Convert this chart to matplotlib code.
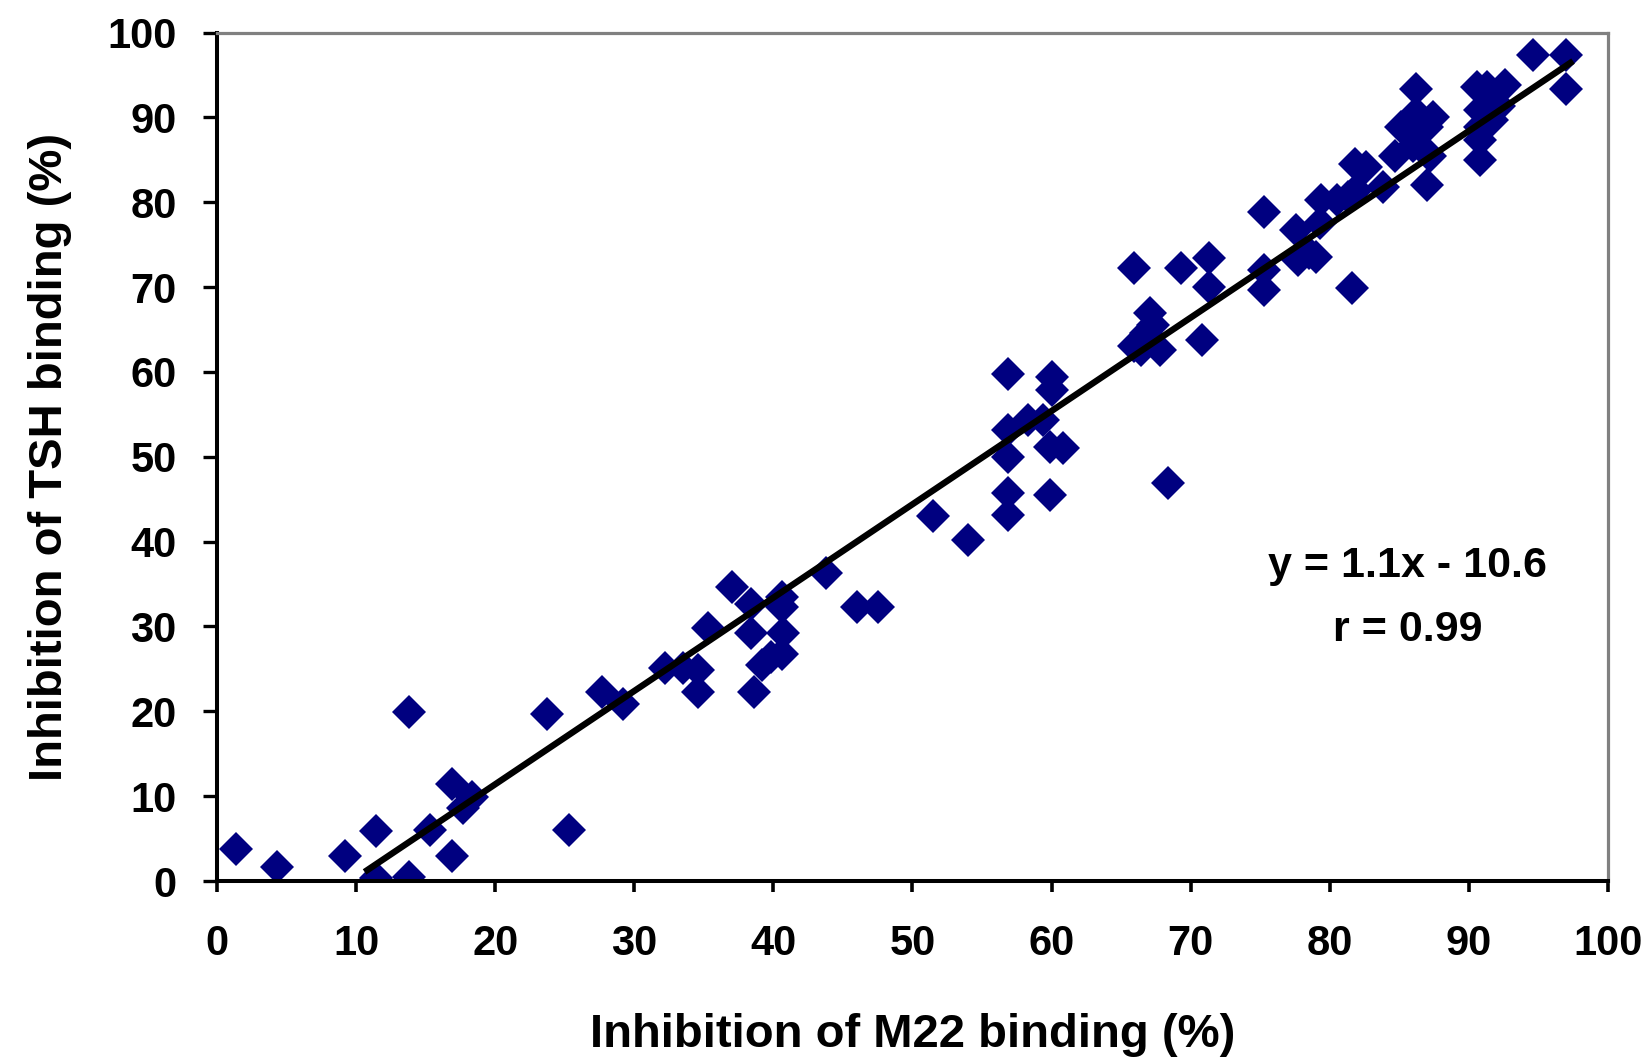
import numpy as np
import matplotlib
matplotlib.use("Agg")
import matplotlib.pyplot as plt

plt.rcParams['font.family'] = ['Liberation Sans', 'DejaVu Sans']
plt.rcParams['font.weight'] = 'bold'

# inhibition of M22 binding (%) vs inhibition of TSH binding (%)
m22 = [1.4, 4.3, 9.2, 11.4, 11.4, 13.8, 13.8, 15.3, 16.9, 16.9, 17.7, 18.3,
       23.7, 25.3, 27.7, 29.2, 32.2, 33.5, 34.6, 34.6, 35.3, 37.0, 38.4, 38.4,
       38.6, 39.2, 39.8, 40.6, 40.6, 40.7, 40.6, 43.8, 46.0, 47.5, 51.5, 54.0,
       56.9, 56.9, 56.9, 56.9, 56.9, 58.3, 59.4, 60.0, 60.0, 59.9, 60.8, 59.9,
       65.9, 65.9, 66.4, 66.8, 67.1, 67.3, 67.8, 68.4, 69.3, 70.8, 71.3, 71.3,
       75.3, 75.3, 75.3, 77.6, 77.7, 78.5, 79.0, 79.3, 79.4, 80.5, 81.3, 81.6,
       81.8, 82.6, 81.9, 83.8, 84.7, 85.1, 86.0, 86.2, 86.2, 87.0, 87.4, 87.0,
       87.2, 90.6, 91.3, 92.6, 92.2, 90.8, 91.7, 90.8, 90.8, 90.8, 94.6, 97.0,
       97.0]
tsh = [3.8, 1.6, 3.0, 5.9, 0.3, 19.9, 0.5, 6.0, 11.4, 3.0, 8.6, 9.9,
       19.7, 6.0, 22.3, 20.9, 25.1, 25.1, 24.9, 22.3, 29.8, 34.7, 32.7, 29.2,
       22.3, 25.5, 26.4, 33.5, 32.3, 29.2, 26.8, 36.3, 32.3, 32.3, 43.0, 40.2,
       59.8, 53.2, 50.0, 45.7, 43.1, 54.3, 54.3, 59.4, 57.9, 51.2, 51.0, 45.5,
       72.2, 63.0, 62.6, 64.6, 67.0, 65.5, 62.6, 46.9, 72.2, 63.8, 73.4, 70.0,
       78.8, 72.0, 69.7, 76.7, 73.2, 74.0, 73.6, 77.5, 80.3, 80.3, 80.6, 69.9,
       84.5, 84.2, 81.5, 81.8, 85.4, 88.9, 86.6, 93.4, 90.5, 88.9, 90.1, 82.0,
       85.4, 93.6, 93.6, 93.8, 91.3, 90.9, 89.7, 88.9, 87.3, 85.0, 97.4, 97.4,
       93.3]

# regression y = 1.1x - 10.6, r = 0.99
slope = 1.1
intercept = -10.6
r_value = 0.99
fit_range = [10.8, 97.3]

fig = plt.figure(figsize=(16.49, 10.57), dpi=100)
ax = fig.add_axes([0.1316, 0.1665, 0.9751 - 0.1316, 0.9692 - 0.1665])

ax.plot(m22, tsh, linestyle='none', marker='D', markersize=17,
        markeredgewidth=0, color='#000080', zorder=2)

fx = np.array(fit_range)
ax.plot(fx, slope * fx + intercept, color='black', linewidth=4.6, zorder=3)

ax.text(85.6, 37.1, f"y = {slope}x - {abs(intercept)}", ha='center', va='center',
        fontsize=31, fontweight='bold')
ax.text(85.6, 29.6, f"r = {r_value}", ha='center', va='center',
        fontsize=31, fontweight='bold')

ax.set_xlim(0, 100)
ax.set_ylim(0, 100)
ax.set_xticks(np.arange(0, 101, 10))
ax.set_yticks(np.arange(0, 101, 10))

for side in ['left', 'bottom']:
    ax.spines[side].set_color('black')
    ax.spines[side].set_linewidth(2.9)
for side in ['top', 'right']:
    ax.spines[side].set_color('#808080')
    ax.spines[side].set_linewidth(2.3)

ax.tick_params(axis='x', direction='out', length=8, width=2.6, pad=23,
               labelsize=30)
ax.tick_params(axis='y', direction='out', length=10, width=2.4, pad=19,
               labelsize=30)
for lab in ax.get_xticklabels() + ax.get_yticklabels():
    lab.set_fontweight('bold')

ax.set_xlabel("Inhibition of M22 binding (%)", fontsize=34, fontweight='bold')
ax.set_ylabel("Inhibition of TSH binding (%)", fontsize=34, fontweight='bold')
ax.xaxis.set_label_coords(0.5, -0.1556)
ax.yaxis.set_label_coords(-0.104, 0.5)

fig.savefig("out.png", dpi=100, facecolor='white')
